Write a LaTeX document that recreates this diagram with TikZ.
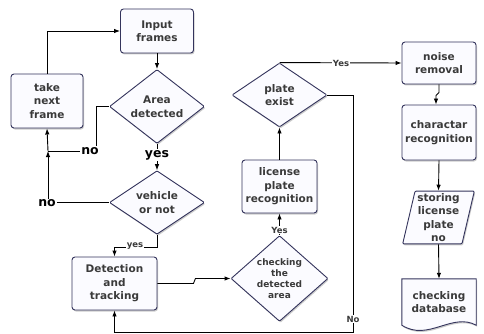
\documentclass[tikz,border=0pt]{standalone}
\usepackage{fontspec}
\setmainfont{DejaVu Sans}
\usetikzlibrary{arrows.meta, shapes.geometric, shadows, backgrounds}
\definecolor{Edge}{HTML}{34345C}
\definecolor{Fill}{HTML}{FBFBFF}
\definecolor{Ink}{HTML}{3A3A3A}
\begin{document}
\begin{tikzpicture}[x=1pt,y=-1pt,>={Latex[length=6pt,width=4.5pt]},box/.style={draw=Edge, fill=Fill, line width=0.9pt, rounded corners=3pt, align=center, text=Ink, inner sep=2pt, font=\fontsize{10.5}{13.5}\selectfont\bfseries, drop shadow={shadow xshift=1pt, shadow yshift=-1.5pt, opacity=0.4}},decision/.style={box, diamond, rounded corners=1pt, inner sep=0pt},flow/.style={->, line width=0.9pt, draw=black},bigtag/.style={fill=white, inner sep=1pt, text=black, font=\fontsize{12.5}{13}\selectfont\bfseries},smalltag/.style={fill=white, inner sep=1pt, text=Ink, font=\fontsize{8.5}{9}\selectfont\bfseries}]
\useasboundingbox (0,0) rectangle (484,334);
% left column
\node[box, minimum width=73pt, minimum height=44pt] (input) at (157,31) {Input\\frames};
\node[box, minimum width=72pt, minimum height=54pt] (takenext) at (47,101) {take\\next\\frame};
\node[decision, minimum width=95pt, minimum height=61pt] (area) at (157,106.5) {Area\\detected};
\node[decision, minimum width=95pt, minimum height=61pt] (vehicle) at (157,202.5) {vehicle\\or not};
\node[box, minimum width=85pt, minimum height=53pt] (detect) at (114.5,283.5) {Detection\\and\\tracking};
% middle column
\node[decision, minimum width=97pt, minimum height=63pt, font=\fontsize{9}{11.2}\selectfont\bfseries] (checkarea) at (279.5,278.5) {checking\\the\\detected\\area};
\node[box, minimum width=75pt, minimum height=53pt] (lpr) at (279.5,186.5) {license\\plate\\recognition};
\node[decision, minimum width=95pt, minimum height=64pt] (plate) at (279.5,95) {plate\\exist};
% right column
\node[box, minimum width=74pt, minimum height=42pt] (noise) at (439,63) {noise\\removal};
\node[box, minimum width=74pt, minimum height=55pt] (charrec) at (439,132.5) {charactar\\recognition};
\node[box, trapezium, trapezium left angle=77, trapezium right angle=103, trapezium stretches=true, rounded corners=1pt, minimum width=72pt, minimum height=51pt] (storing) at (438.5,217.5) {storing\\license\\plate\\no};
\node[align=center, text=Ink, font=\fontsize{10.5}{13.5}\selectfont\bfseries, minimum width=74pt, minimum height=46pt] (database) at (439,302) {checking\\database};
\begin{scope}[on background layer]
\fill[white] (0,0) rectangle (484,334);
\draw[draw=Edge, fill=Fill, line width=0.9pt, drop shadow={shadow xshift=1pt, shadow yshift=-1.5pt, opacity=0.4}] (database.south west) -- (database.north west) -- (database.north east) -- (database.south east) .. controls (452,312) and (428,342) .. (database.south west) -- cycle;
\end{scope}
% junctions
\coordinate (loopjoin) at (48,151);
\coordinate (noturn) at (353,332);
% connectors
\draw[flow] (takenext.north) |- (input.west);
\draw[flow] (input.south) -- (area.north);
\draw[line width=0.9pt] (area.west) -- (96,106.5) |- (loopjoin);
\node[bigtag] (areano) at (90,151) {no};
\draw[flow] (area.south) -- (vehicle.north);
\node[bigtag] (areayes) at (157,155) {yes};
\draw[flow] (vehicle.west) -| (loopjoin);
\node[bigtag] (vehicleno) at (47,203.5) {no};
\draw[flow] (loopjoin) -- (takenext.south);
\draw[flow] (vehicle.south) -- ++(0,13) -| (detect.north);
\node[smalltag] (vehicleyes) at (135,246) {yes};
\draw[flow] (detect.east) -- ++(36,0) -- ++(2,-5) -- (checkarea.west);
\draw[flow] (checkarea.north) -- (lpr.south);
\node[smalltag] (checkyes) at (279.5,230) {Yes};
\draw[flow] (lpr.north) -- (plate.south);
\draw[flow] (plate.north) -- (noise.west);
\node[smalltag] (plateyes) at (341,63) {Yes};
\draw[flow] (plate.east) -| (noturn) -| (detect.south);
\node[smalltag] (plateno) at (353,319) {No};
\draw[flow] (noise.south) -- ++(0,8) -- ++(-3,3) coordinate (nj) -- (nj |- charrec.north);
\draw[flow] (charrec.south) -- (storing.north);
\draw[flow] (storing.south) -- (database.north);
\end{tikzpicture}
\end{document}
